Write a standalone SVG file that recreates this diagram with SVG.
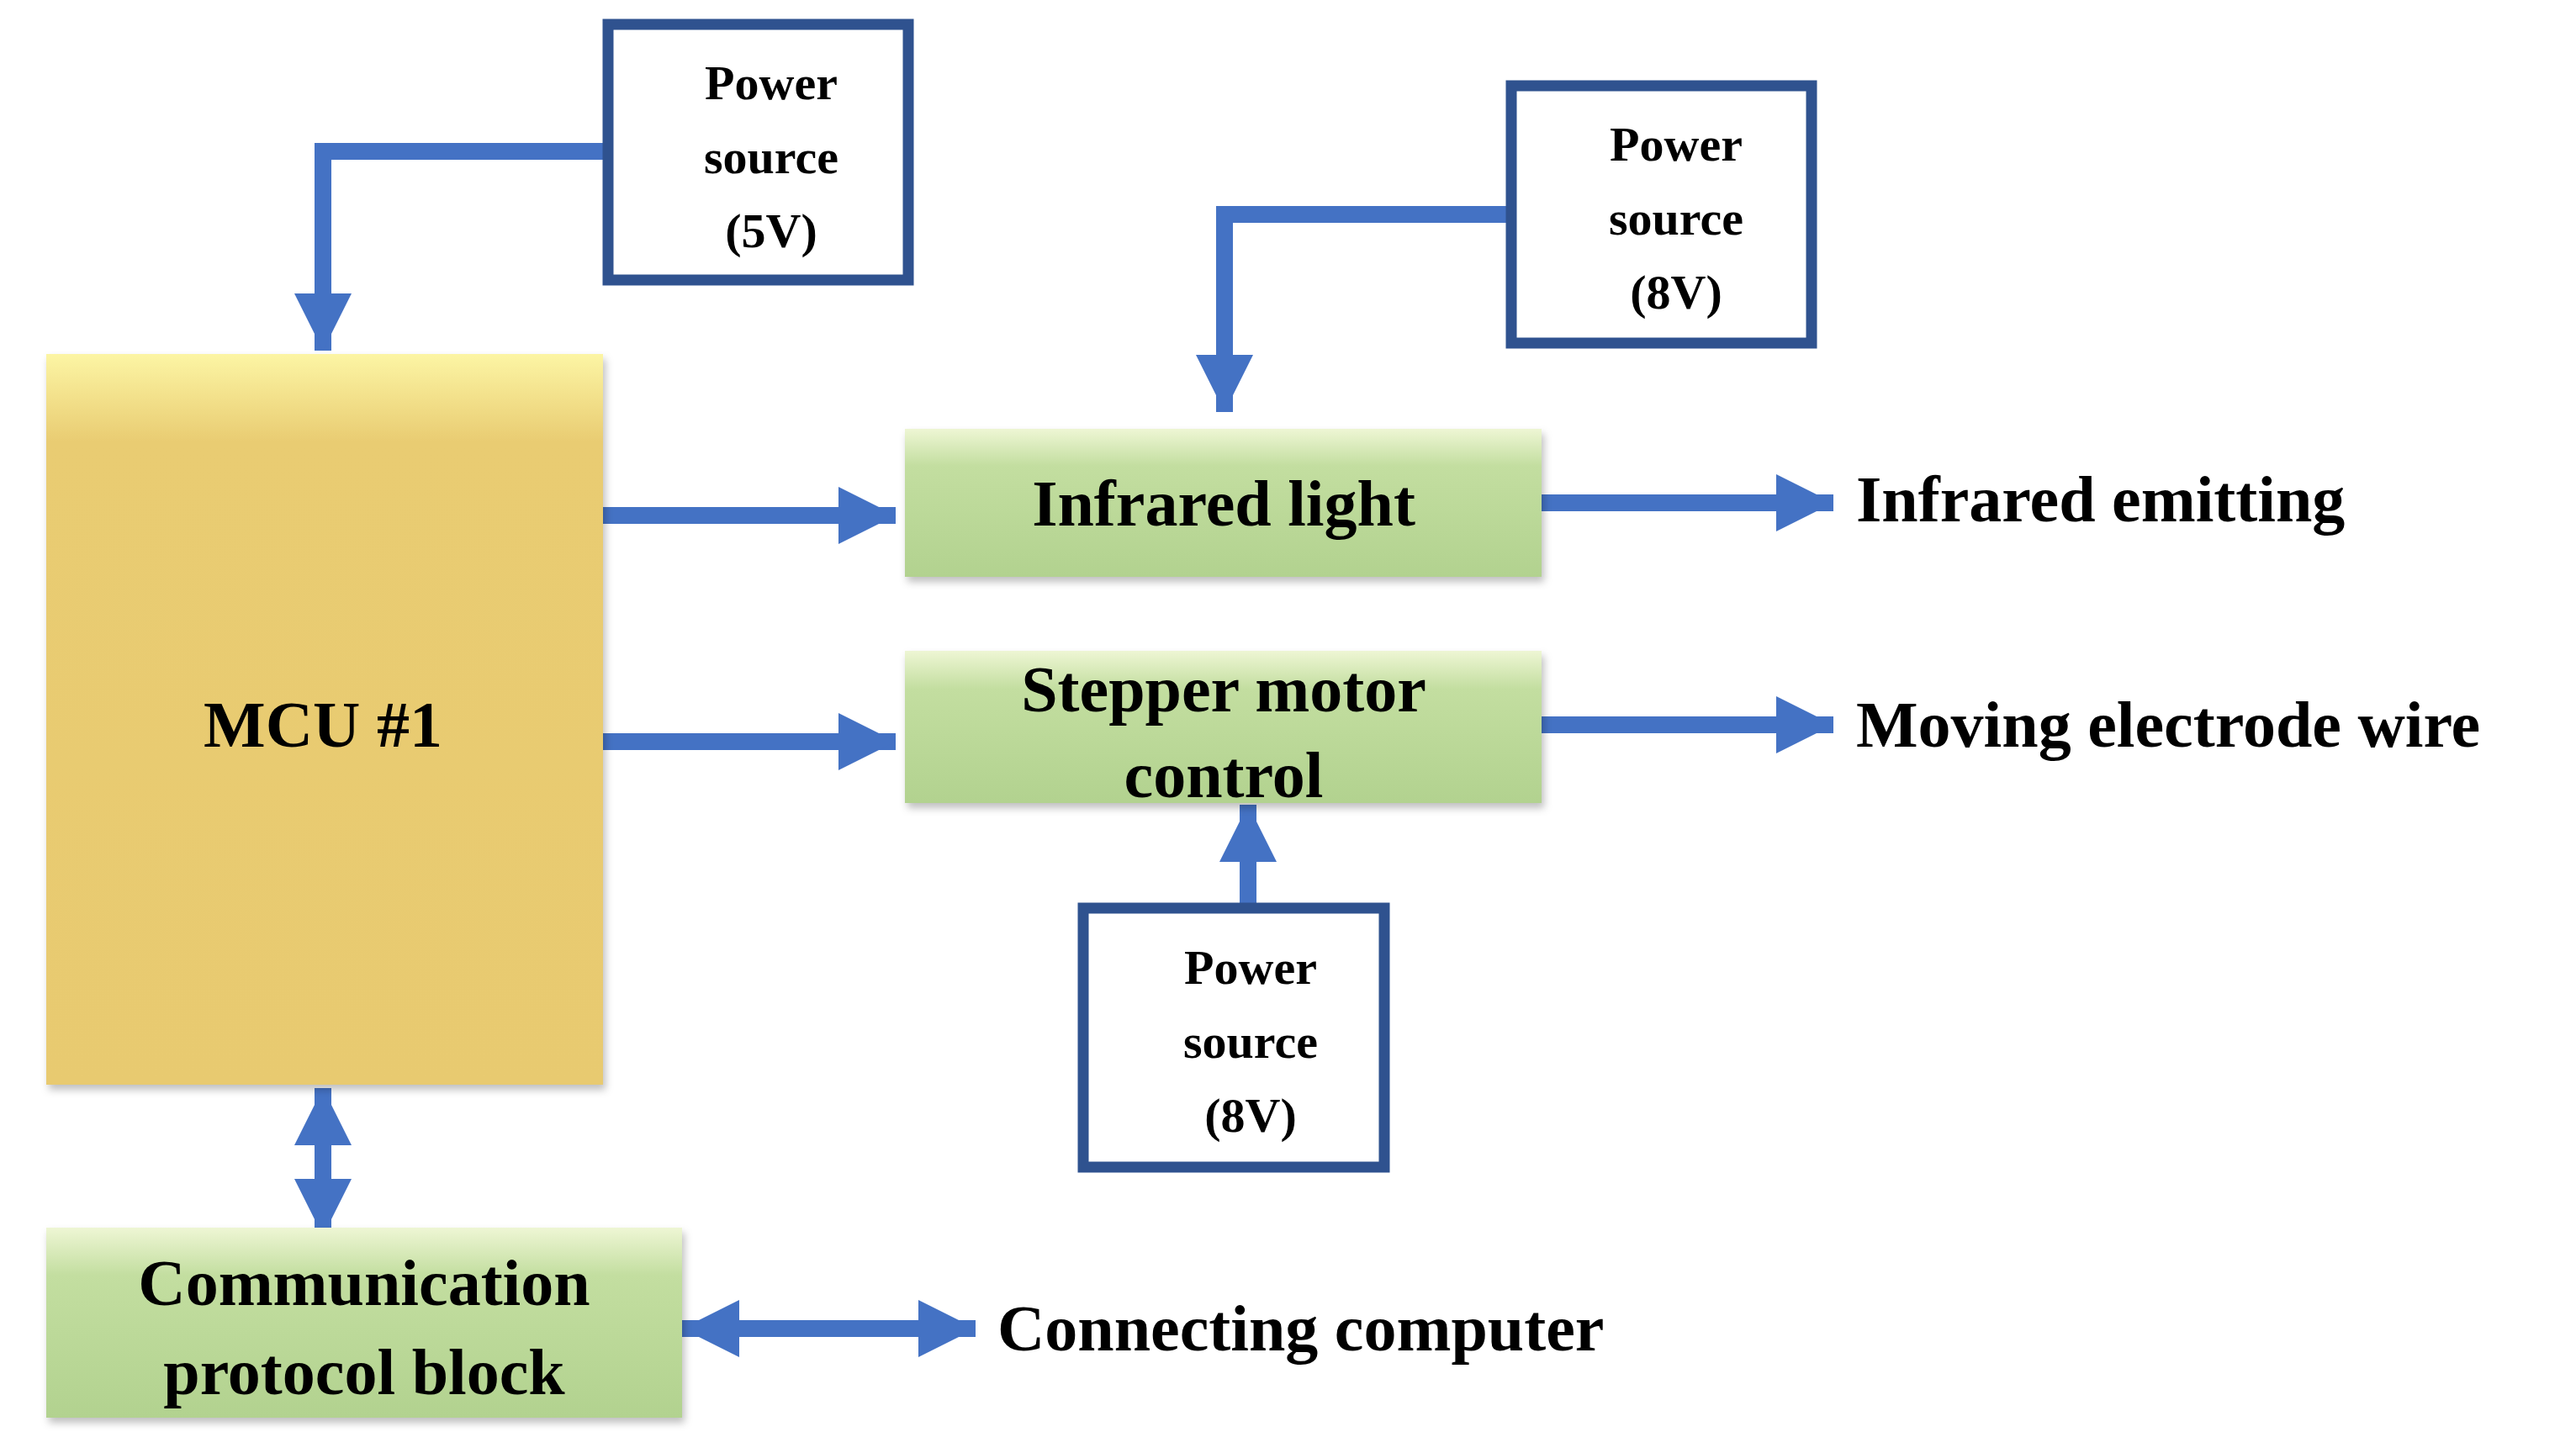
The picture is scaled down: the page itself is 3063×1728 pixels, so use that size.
<svg xmlns="http://www.w3.org/2000/svg" width="3063" height="1728" viewBox="0 0 3063 1728">
<style>
text{font-family:"Liberation Serif","Times New Roman",serif;font-weight:bold;fill:#000}
.ps{fill:#fff;stroke:#2f528f;stroke-width:13}
.pt{font-size:58px;text-anchor:middle}
.bt{font-size:78px;text-anchor:middle}
.lt{font-size:78px}
.ln{fill:none;stroke:#4472c4;stroke-width:20}
.g{fill:url(#gg)}
</style>
<defs>
<linearGradient id="gg" x1="0" y1="0" x2="0" y2="1"><stop offset="0" stop-color="#eef6d4"/><stop offset="0.25" stop-color="#c3dea0"/><stop offset="1" stop-color="#b2d28f"/></linearGradient>
<linearGradient id="gy" x1="0" y1="0" x2="0" y2="1"><stop offset="0" stop-color="#fcf5a4"/><stop offset="0.12" stop-color="#e9cc72"/><stop offset="1" stop-color="#e8ca70"/></linearGradient>
<marker id="ah" viewBox="0 0 10 10" refX="10" refY="5" markerWidth="3.4" markerHeight="3.4" markerUnits="strokeWidth" orient="auto-start-reverse"><path d="M0,0L10,5L0,10z" fill="#4472c4"/></marker>
<filter id="sh" x="-5%" y="-5%" width="110%" height="115%"><feDropShadow dx="3" dy="6" stdDeviation="5" flood-color="#000" flood-opacity="0.25"/></filter>
</defs>
<g id="connectors">
<path class="ln" d="M723,180H384V417" marker-end="url(#ah)"/>
<path class="ln" d="M1797,255H1456V490" marker-end="url(#ah)"/>
<path class="ln" d="M717,613H1065" marker-end="url(#ah)"/>
<path class="ln" d="M717,882H1065" marker-end="url(#ah)"/>
<path class="ln" d="M1833,598H2180" marker-end="url(#ah)"/>
<path class="ln" d="M1833,862H2180" marker-end="url(#ah)"/>
<path class="ln" d="M1484,1080V957" marker-end="url(#ah)"/>
<path class="ln" d="M384,1294V1470" marker-start="url(#ah)" marker-end="url(#ah)"/>
<path class="ln" d="M811,1580H1160" marker-start="url(#ah)" marker-end="url(#ah)"/>
</g>
<g id="ps5">
<rect class="ps" x="723" y="29" width="357" height="304"/>
<text class="pt" x="917" y="118">Power</text><text class="pt" x="917" y="206">source</text><text class="pt" x="917" y="294">(5V)</text>
</g>
<g id="ps8a">
<rect class="ps" x="1797" y="102" width="357" height="306"/>
<text class="pt" x="1993" y="191">Power</text><text class="pt" x="1993" y="279">source</text><text class="pt" x="1993" y="367">(8V)</text>
</g>
<g id="ps8b">
<rect class="ps" x="1288" y="1080" width="358" height="308"/>
<text class="pt" x="1487" y="1170">Power</text><text class="pt" x="1487" y="1258">source</text><text class="pt" x="1487" y="1346">(8V)</text>
</g>
<g id="mcu">
<rect x="55" y="421" width="662" height="869" fill="url(#gy)" filter="url(#sh)"/>
<text class="bt" x="384" y="888">MCU #1</text>
</g>
<g id="ir">
<rect class="g" x="1076" y="510" width="757" height="176" filter="url(#sh)"/>
<text class="bt" x="1455" y="625">Infrared light</text>
</g>
<g id="step">
<rect class="g" x="1076" y="774" width="757" height="181" filter="url(#sh)"/>
<text class="bt" x="1455" y="846">Stepper motor</text><text class="bt" x="1455" y="948">control</text>
</g>
<g id="comm">
<rect class="g" x="55" y="1460" width="756" height="226" filter="url(#sh)"/>
<text class="bt" x="433" y="1552">Communication</text><text class="bt" x="433" y="1658">protocol block</text>
</g>
<g id="labels">
<text class="lt" x="2207" y="620">Infrared emitting</text>
<text class="lt" x="2207" y="888">Moving electrode wire</text>
<text class="lt" x="1186" y="1606">Connecting computer</text>
</g>
</svg>
